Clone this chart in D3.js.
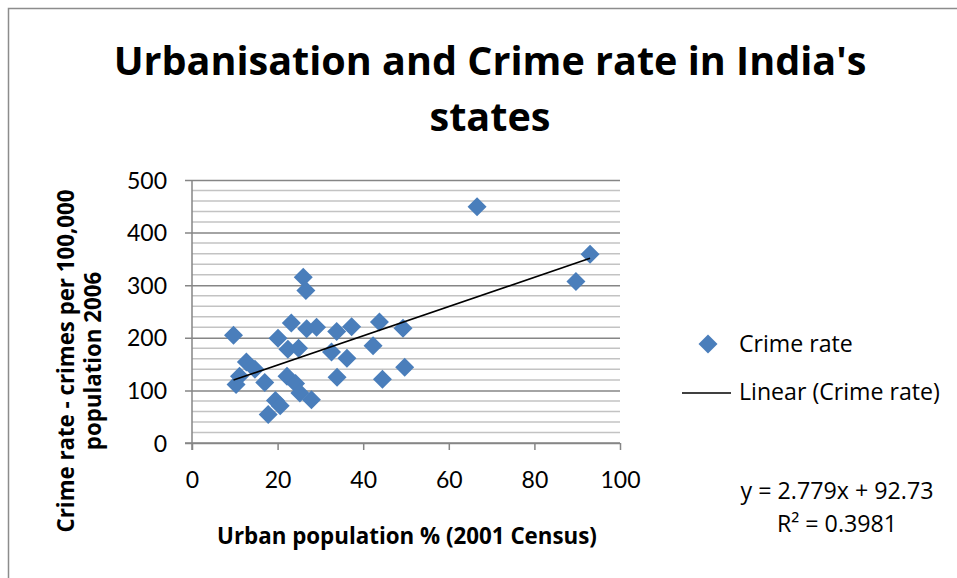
<!DOCTYPE html>
<html>
<head>
<meta charset="utf-8">
<script src="https://cdn.jsdelivr.net/npm/d3@7"></script>
<style>
  html, body { margin: 0; padding: 0; background: #fff; }
  svg { display: block; font-family: "Open Sans", Lato, sans-serif; }
</style>
</head>
<body>
<svg id="chart" width="957" height="578"></svg>
<script>
// Urban population share (2001 Census) and crime rate (2006) by state
const urbanPct = [66.6, 93.0, 89.7, 26.0, 26.6, 9.7, 23.2, 26.8, 29.1, 33.8, 37.3, 43.8,
  49.3, 20.1, 22.4, 24.9, 32.6, 36.2, 42.3, 12.7, 14.7, 17.0, 11.1, 10.3, 22.2, 24.2,
  25.2, 27.9, 19.5, 20.6, 17.8, 33.9, 44.5, 49.7];
const crimeRate = [449, 359, 307, 315, 290, 205, 228, 217, 220, 212, 221, 230,
  218, 199, 178, 180, 173, 161, 185, 154, 140, 115, 127, 111, 127, 113,
  95, 82, 81, 71, 54, 125, 121, 144];

// Linear trendline as reported
const slope = 2.779;
const intercept = 92.73;
const rSquared = 0.3981;

const xTicks = [0, 20, 40, 60, 80, 100];
const yTicks = [0, 100, 200, 300, 400, 500];
const yMinor = d3.range(0, 501, 20);

const titleLines = ["Urbanisation and Crime rate in India's", "states"];
const xTitle = "Urban population % (2001 Census)";
const yTitleLines = ["Crime rate - crimes per 100,000", "population 2006"];
const seriesName = "Crime rate";
const trendName = "Linear (Crime rate)";

const svg = d3.select("#chart");
const x = d3.scaleLinear().domain([0, 100]).range([192, 620]);
const y = d3.scaleLinear().domain([0, 500]).range([443, 180]);

const axisGrey = "#868686";
const minorGrey = "#c3c3c3";
const blue = "#4A7EBB";

// scale a group of text lines so that the first one spans the given width
function fitWidth(sel, width) {
  const first = sel.node();
  const fs = parseFloat(first.getAttribute("font-size"));
  const size = fs * width / first.getComputedTextLength();
  sel.attr("font-size", size);
}

// chart frame
svg.append("rect").attr("x", 8.5).attr("y", 8.5).attr("width", 960).attr("height", 580)
  .attr("fill", "none").attr("stroke", "#8c8c8c").attr("stroke-width", 1.5);

// title
const title = svg.append("g").selectAll("text").data(titleLines).join("text")
  .attr("x", 490).attr("y", (d, i) => 75 + i * 56)
  .attr("text-anchor", "middle").attr("font-weight", 700).attr("font-size", 40)
  .attr("fill", "#000").text(d => d);
fitWidth(title, 753);

// minor gridlines
svg.append("g").selectAll("line").data(yMinor.filter(v => v % 100 !== 0)).join("line")
  .attr("x1", x(0)).attr("x2", x(100))
  .attr("y1", d => y(d)).attr("y2", d => y(d))
  .attr("stroke", minorGrey).attr("stroke-width", 1.5);

// y axis with major gridlines
const yAxis = d3.axisLeft(y).tickValues(yTicks).tickSize(-(x(100) - x(0))).tickPadding(26)
  .tickFormat(d3.format("d"));
const yg = svg.append("g").attr("transform", `translate(${x(0)},0)`).call(yAxis);
yg.select(".domain").remove();
yg.selectAll(".tick line").attr("stroke", axisGrey).attr("stroke-width", 1.5).attr("x1", -7);
yg.selectAll(".tick text").attr("font-size", 23).attr("fill", "#000")
  .attr("font-family", "Lato, sans-serif").attr("x", -25).attr("dy", "0.35em");
svg.append("line").attr("x1", x(0)).attr("x2", x(0)).attr("y1", y(500)).attr("y2", y(0) + 7)
  .attr("stroke", axisGrey).attr("stroke-width", 1.5);

// x axis
const xAxis = d3.axisBottom(x).tickValues(xTicks).tickSize(7).tickPadding(22);
const xg = svg.append("g").attr("transform", `translate(0,${y(0)})`).call(xAxis);
xg.select(".domain").remove();
xg.selectAll(".tick line").attr("stroke", axisGrey).attr("stroke-width", 1.5);
xg.selectAll(".tick text").attr("font-size", 23).attr("fill", "#000")
  .attr("font-family", "Lato, sans-serif");
svg.append("line").attr("x1", x(0) - 7).attr("x2", x(100)).attr("y1", y(0)).attr("y2", y(0))
  .attr("stroke", axisGrey).attr("stroke-width", 1.5);

// axis titles
const xt = svg.append("text").attr("x", 407).attr("y", 544).attr("text-anchor", "middle")
  .attr("font-weight", 700).attr("font-size", 21).attr("fill", "#000").text(xTitle);
fitWidth(xt, 380);
const yt = svg.append("g").selectAll("text").data(yTitleLines).join("text")
  .attr("transform", (d, i) => `translate(${74 + i * 27},361) rotate(-90)`)
  .attr("text-anchor", "middle").attr("font-weight", 700).attr("font-size", 20.5)
  .attr("fill", "#000").text(d => d);
fitWidth(yt, 343);

// markers
const diamond = "M0,-9.5L9.5,0L0,9.5L-9.5,0Z";
svg.append("g").selectAll("path").data(urbanPct.map((u, i) => [u, crimeRate[i]])).join("path")
  .attr("transform", d => `translate(${x(d[0])},${y(d[1])})`)
  .attr("d", diamond).attr("fill", blue);

// trendline across the observed range
const xExtent = d3.extent(urbanPct);
const trend = xExtent.map(v => [v, slope * v + intercept]);
svg.append("path").datum(trend)
  .attr("d", d3.line().x(d => x(d[0])).y(d => y(d[1])))
  .attr("stroke", "#000").attr("stroke-width", 1.6).attr("fill", "none");

// legend
svg.append("path").attr("transform", "translate(708,344)").attr("d", diamond).attr("fill", blue);
svg.append("line").attr("x1", 682).attr("x2", 731).attr("y1", 393).attr("y2", 393)
  .attr("stroke", "#000").attr("stroke-width", 1.6);
const legendText = svg.append("g").selectAll("text").data([trendName, seriesName]).join("text")
  .attr("x", 739).attr("y", (d, i) => i === 0 ? 400 : 352)
  .attr("font-size", 22).attr("fill", "#000").text(d => d);
fitWidth(legendText, 201);

// trendline equation
const eq = [`y = ${slope}x + ${intercept}`, `R² = ${rSquared}`];
const eqText = svg.append("g").selectAll("text").data(eq).join("text")
  .attr("x", 837).attr("y", (d, i) => 499 + i * 33).attr("text-anchor", "middle")
  .attr("font-size", 22).attr("fill", "#000").text(d => d);
fitWidth(eqText, 193);
</script>
</body>
</html>
